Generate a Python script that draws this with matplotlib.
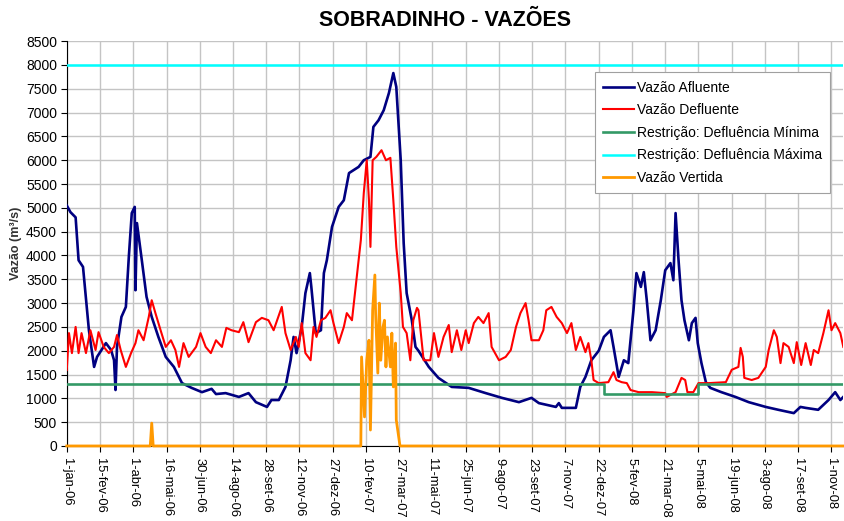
import numpy as np
import pandas as pd
import matplotlib
matplotlib.use("Agg")
import matplotlib.pyplot as plt

plt.rcParams['font.family'] = ['Liberation Sans', 'DejaVu Sans']

# dias contados a partir de 1-jan-06
afl_dia = [0, 5, 12, 16, 22, 30, 37, 41, 53, 60, 64, 66, 68, 74, 80, 84, 88, 92, 93, 95,
           101, 108, 115, 124, 134, 145, 156, 169, 183, 196, 202, 215, 233, 246, 256, 271,
           277, 287, 296, 303, 307, 311, 318, 323, 329, 331, 337, 344, 348, 352, 359, 368,
           375, 382, 395, 402, 411, 415, 422, 429, 436, 442, 446, 452, 456, 460, 467, 472,
           476, 490, 503, 521, 544, 567, 589, 612, 629, 639, 662, 666, 670, 689, 695, 702,
           710, 720, 727, 736, 740, 747, 754, 760, 767, 771, 777, 781, 785, 790, 797, 804,
           810, 817, 821, 824, 828, 832, 836, 842, 846, 851, 854, 859, 865, 871, 886, 905,
           923, 946, 963, 984, 993, 1000, 1017, 1031, 1040, 1047, 1051]
afl_val = [5050, 4910, 4800, 3900, 3760, 2430, 1660, 1870, 2160, 2015, 1800, 1175, 2080,
           2710, 2920, 3970, 4890, 5020, 3270, 4680, 3970, 3130, 2710, 2290, 1870, 1660,
           1320, 1220, 1130, 1200, 1090, 1110, 1030, 1110, 920, 820, 965, 965, 1240, 1800,
           2290, 1950, 2500, 3210, 3630, 3340, 2370, 2430, 3630, 3900, 4600, 5020, 5160,
           5730, 5860, 6000, 6070, 6700, 6840, 7050, 7410, 7830, 7540, 6000, 4260, 3210,
           2640, 2080, 2000, 1660, 1430, 1240, 1220, 1110, 1010, 920, 1010, 900, 820, 900,
           800, 800, 1240, 1450, 1800, 2000, 2290, 2430, 2080, 1450, 1800, 1740, 2850, 3630,
           3340, 3650, 3060, 2220, 2430, 3060, 3690, 3840, 3480, 4890, 3900, 3060, 2640,
           2220, 2580, 2690, 2160, 1740, 1340, 1220, 1130, 1030, 920, 820, 760, 690, 820,
           800, 760, 965, 1130, 965, 1030]

def_dia = [0, 3, 7, 12, 16, 20, 26, 32, 39, 43, 50, 57, 64, 68, 73, 80, 87, 93, 97, 104,
           111, 115, 120, 127, 134, 141, 147, 152, 158, 165, 175, 181, 188, 195, 202, 210,
           216, 223, 233, 239, 246, 256, 264, 273, 280, 291, 296, 303, 310, 314, 318, 323,
           330, 334, 338, 344, 350, 357, 361, 368, 375, 379, 386, 392, 398, 402, 406, 409,
           411, 414, 419, 426, 432, 438, 442, 446, 452, 455, 460, 465, 469, 474, 476, 483,
           492, 497, 503, 510, 517, 521, 528, 534, 540, 544, 551, 557, 564, 571, 575, 585,
           594, 601, 608, 614, 621, 625, 629, 639, 645, 649, 656, 663, 670, 677, 683, 689,
           695, 702, 706, 710, 713, 720, 733, 740, 744, 751, 758, 763, 774, 792, 810, 812,
           824, 832, 837, 840, 848, 855, 869, 892, 900, 909, 912, 915, 917, 927, 936, 946,
           950, 957, 961, 966, 970, 977, 984, 988, 994, 1000, 1007, 1011, 1017, 1024, 1031,
           1035, 1040, 1047, 1051]
def_val = [1595, 2370, 1950, 2500, 1950, 2370, 1950, 2430, 2015, 2390, 2080, 1950, 2080,
           2330, 2015, 1660, 1950, 2160, 2430, 2220, 2710, 3060, 2790, 2430, 2080, 2220,
           2015, 1660, 2160, 1870, 2080, 2370, 2080, 1950, 2220, 2080, 2480, 2430, 2390,
           2600, 2180, 2600, 2690, 2640, 2430, 2920, 2370, 2015, 2290, 2080, 2580, 1950,
           1800, 2500, 2290, 2640, 2690, 2850, 2580, 2160, 2500, 2790, 2640, 3480, 4320,
           5310, 6000, 5160, 4180, 6000, 6070, 6210, 6000, 6050, 5160, 4180, 3210, 2500,
           2370, 1800, 2640, 2900, 2850, 1800, 1800, 2370, 1870, 2290, 2540, 1970, 2430,
           2015, 2430, 2160, 2580, 2710, 2580, 2790, 2080, 1800, 1870, 2015, 2500, 2790,
           3000, 2640, 2220, 2220, 2430, 2850, 2920, 2710, 2580, 2370, 2580, 2015, 2290,
           1970, 2160, 1800, 1385, 1320, 1340, 1550, 1385, 1340, 1320, 1175, 1130, 1130,
           1110, 1030, 1130, 1430, 1385, 1130, 1130, 1320, 1320, 1340, 1600, 1660, 2060,
           1870, 1430, 1385, 1430, 1660, 2015, 2430, 2290, 1740, 2160, 2080, 1740, 2180,
           1700, 2160, 1700, 2015, 1950, 2370, 2850, 2430, 2580, 2370, 2080]

min_dia = [0, 727, 855, 1051]
min_val = [1300, 1100, 1300, 1300]

max_dia = [0, 1051]
max_val = [8000, 8000]

vert_dia = [0, 113, 115, 117, 398, 399, 403, 406, 409, 411, 414, 417, 418, 421, 423, 425,
            428, 430, 432, 434, 438, 440, 442, 445, 446, 451, 1051]
vert_val = [0, 0, 480, 0, 0, 1870, 610, 1800, 2220, 335, 2850, 3590, 2790, 1530, 3000,
            1800, 2500, 2640, 1660, 2290, 1660, 2370, 1240, 2160, 545, 0, 0]

rotulos_x = ['1-jan-06', '15-fev-06', '1-abr-06', '16-mai-06', '30-jun-06', '14-ago-06',
             '28-set-06', '12-nov-06', '27-dez-06', '10-fev-07', '27-mar-07', '11-mai-07',
             '25-jun-07', '9-ago-07', '23-set-07', '7-nov-07', '22-dez-07', '5-fev-08',
             '21-mar-08', '5-mai-08', '19-jun-08', '3-ago-08', '17-set-08', '1-nov-08']

inicio = pd.Timestamp('2006-01-01')
def datas(d):
    return inicio + pd.to_timedelta(d, unit='D')

fig = plt.figure(figsize=(8.45, 5.21), dpi=100)
ax = fig.add_axes([0.079, 0.144, 0.919, 0.777])

ax.plot(datas(afl_dia), afl_val, color='#000080', lw=1.9, label='Vazão Afluente', zorder=3)
ax.plot(datas(def_dia), def_val, color='#ff0000', lw=1.5, label='Vazão Defluente', zorder=4)
ax.plot(datas(min_dia), min_val, color='#339966', lw=1.9, drawstyle='steps-post',
        label='Restrição: Defluência Mínima', zorder=5)
ax.plot(datas(max_dia), max_val, color='#00ffff', lw=1.8,
        label='Restrição: Defluência Máxima', zorder=5)
ax.plot(datas(vert_dia), vert_val, color='#ff9900', lw=2.0, label='Vazão Vertida',
        zorder=6, clip_on=False)

ticks = pd.date_range('2006-01-01', periods=len(rotulos_x), freq='45D')
ax.set_xticks(ticks)
ax.set_xticklabels(rotulos_x, rotation=-90, fontsize=9.3)
ax.set_xlim(datas(0), datas(1051))
ax.set_ylim(0, 8500)
ax.set_yticks(np.arange(0, 8501, 500))
ax.tick_params(axis='y', labelsize=10, length=4, direction='out', pad=3)
ax.tick_params(axis='x', length=4, direction='out', pad=5)
ax.grid(True, color='#c4c4c4', lw=1.0)
ax.set_axisbelow(True)
for s in ['top', 'right']:
    ax.spines[s].set_visible(False)
ax.spines['left'].set_color('black')
ax.spines['bottom'].set_color('black')

ax.set_ylabel('Vazão (m³/s)', fontsize=9, fontweight='bold', color='#333333', labelpad=3)
fig.text(0.527, 0.961, 'SOBRADINHO - VAZÕES', fontsize=15.5, fontweight='bold',
         ha='center', va='center')

leg = ax.legend(loc='upper right', bbox_to_anchor=(0.983, 0.923), fontsize=10,
                fancybox=False, framealpha=1, edgecolor='#a0a0a0', handlelength=2.2,
                labelspacing=0.62, borderpad=0.6, handletextpad=0.2, borderaxespad=0)
leg.get_frame().set_linewidth(0.8)

fig.savefig('out.png', dpi=100)
